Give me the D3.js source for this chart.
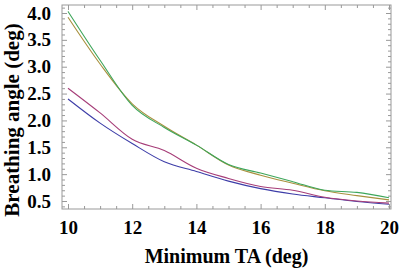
<!DOCTYPE html>
<html>
<head>
<meta charset="utf-8">
<script src="https://cdn.jsdelivr.net/npm/d3@7"></script>
<style>
  html, body { margin: 0; padding: 0; background: #fff; }
  text { font-family: "Liberation Serif", "Times New Roman", serif; font-weight: bold; }
</style>
</head>
<body>
<div id="chart"></div>
<script>
// data
const minTA = [10, 11, 12, 13, 14, 15, 16, 17, 18, 19, 20];
const blueSeries = [2.40, 1.95, 1.57, 1.23, 1.05, 0.87, 0.73, 0.63, 0.56, 0.49, 0.44];
const redSeries = [2.60, 2.14, 1.65, 1.44, 1.11, 0.92, 0.77, 0.70, 0.57, 0.50, 0.46];
const goldSeries = [3.92, 3.05, 2.31, 1.89, 1.54, 1.17, 0.98, 0.83, 0.69, 0.60, 0.52];
const greenSeries = [4.03, 3.12, 2.28, 1.87, 1.54, 1.18, 1.02, 0.86, 0.70, 0.66, 0.56];
const xTicks = [10, 12, 14, 16, 18, 20];
const yTicks = [0.5, 1.0, 1.5, 2.0, 2.5, 3.0, 3.5, 4.0];

const series = [
  { values: blueSeries, color: "#3d3da8" },
  { values: redSeries, color: "#a63d78" },
  { values: goldSeries, color: "#a8903d" },
  { values: greenSeries, color: "#3da65a" }
];

const W = 399, H = 270;
const frame = { left: 62, right: 391, top: 5, bottom: 209 };

const svg = d3.select("#chart").append("svg")
  .attr("width", W)
  .attr("height", H);

const x = d3.scaleLinear().domain([10, 20]).range([68, 389]);
const y = d3.scaleLinear().domain([0.5, 4.0]).range([201, 13]);

// 副刻度
const xMinor = d3.range(10, 20.01, 0.5).filter(v => !xTicks.includes(v));
const yMinor = d3.range(0.4, 4.11, 0.1).map(v => Math.round(v * 10) / 10).filter(v => !yTicks.includes(v));

const tickColor = "#999";

function styleAxis(g) {
  g.select(".domain").remove();
  g.selectAll("line").attr("stroke", tickColor);
  g.selectAll("text").attr("fill", "#000").attr("font-size", "19px")
    .attr("font-family", "Liberation Serif, serif").attr("font-weight", "bold");
}

// bottom
svg.append("g").attr("transform", `translate(0,${frame.bottom})`)
  .call(d3.axisBottom(x).tickValues(xTicks).tickSize(-5).tickPadding(12).tickFormat(d3.format("d")))
  .call(styleAxis);
svg.append("g").attr("transform", `translate(0,${frame.bottom})`)
  .call(d3.axisBottom(x).tickValues(xMinor).tickSize(-3).tickFormat(""))
  .call(styleAxis);
// top
svg.append("g").attr("transform", `translate(0,${frame.top})`)
  .call(d3.axisTop(x).tickValues(xTicks).tickSize(-5).tickFormat(""))
  .call(styleAxis);
svg.append("g").attr("transform", `translate(0,${frame.top})`)
  .call(d3.axisTop(x).tickValues(xMinor).tickSize(-3).tickFormat(""))
  .call(styleAxis);
// left
svg.append("g").attr("transform", `translate(${frame.left},0)`)
  .call(d3.axisLeft(y).tickValues(yTicks).tickSize(-5).tickPadding(11).tickFormat(d3.format(".1f")))
  .call(styleAxis);
svg.append("g").attr("transform", `translate(${frame.left},0)`)
  .call(d3.axisLeft(y).tickValues(yMinor).tickSize(-3).tickFormat(""))
  .call(styleAxis);
// right
svg.append("g").attr("transform", `translate(${frame.right},0)`)
  .call(d3.axisRight(y).tickValues(yTicks).tickSize(-5).tickFormat(""))
  .call(styleAxis);
svg.append("g").attr("transform", `translate(${frame.right},0)`)
  .call(d3.axisRight(y).tickValues(yMinor).tickSize(-3).tickFormat(""))
  .call(styleAxis);

// frame
svg.append("rect")
  .attr("x", frame.left).attr("y", frame.top)
  .attr("width", frame.right - frame.left)
  .attr("height", frame.bottom - frame.top)
  .attr("fill", "none")
  .attr("stroke", tickColor)
  .attr("stroke-width", 1);

// curves
const line = d3.line()
  .x((d, i) => x(minTA[i]))
  .y(d => y(d))
  .curve(d3.curveMonotoneX);

svg.append("g").selectAll("path")
  .data(series)
  .enter()
  .append("path")
  .attr("d", d => line(d.values))
  .attr("fill", "none")
  .attr("stroke", d => d.color)
  .attr("stroke-width", 1.1);

// axis titles
svg.append("text")
  .attr("x", (frame.left + frame.right) / 2)
  .attr("y", 263)
  .attr("text-anchor", "middle")
  .attr("font-size", "20px")
  .text("Minimum TA (deg)");

svg.append("text")
  .attr("transform", `translate(19,120) rotate(-90)`)
  .attr("text-anchor", "middle")
  .attr("font-size", "21px")
  .text("Breathing angle (deg)");
</script>
</body>
</html>
